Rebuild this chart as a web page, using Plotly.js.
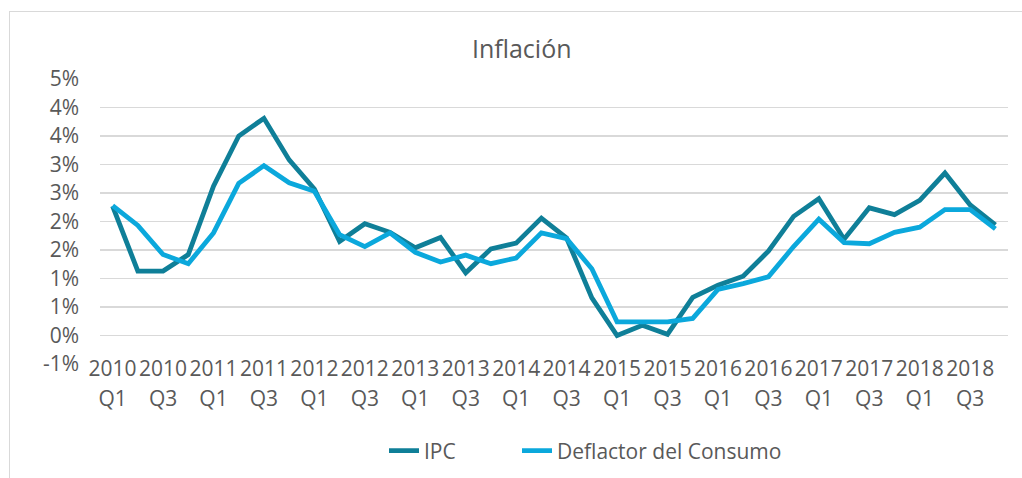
<!DOCTYPE html>
<html>
<head>
<meta charset="utf-8">
<script src="https://cdn.plot.ly/plotly-3.0.1.min.js"></script>
<style>
  html, body { margin: 0; padding: 0; background: #ffffff; }
  #wrap { position: relative; width: 1022px; height: 478px; overflow: hidden; }
  #frame { position: absolute; left: 9px; top: 11px; width: 1020px; height: 480px;
           border-top: 1px solid #d9d9d9; border-left: 1px solid #d9d9d9; box-sizing: border-box; z-index: 2; pointer-events: none; }
  #chart { position: absolute; left: 0; top: 0; width: 1022px; height: 478px; }
</style>
</head>
<body>
<div id="wrap">
  <div id="chart"></div>
  <div id="frame"></div>
</div>
<script>
const quarters = [
  "2010 Q1","2010 Q2","2010 Q3","2010 Q4",
  "2011 Q1","2011 Q2","2011 Q3","2011 Q4",
  "2012 Q1","2012 Q2","2012 Q3","2012 Q4",
  "2013 Q1","2013 Q2","2013 Q3","2013 Q4",
  "2014 Q1","2014 Q2","2014 Q3","2014 Q4",
  "2015 Q1","2015 Q2","2015 Q3","2015 Q4",
  "2016 Q1","2016 Q2","2016 Q3","2016 Q4",
  "2017 Q1","2017 Q2","2017 Q3","2017 Q4",
  "2018 Q1","2018 Q2","2018 Q3","2018 Q4"
];
const ipc = [2.27,1.13,1.13,1.42,2.62,3.50,3.81,3.08,2.57,1.65,1.96,1.81,1.54,1.72,1.10,1.52,1.62,2.06,1.71,0.66,0.00,0.18,0.02,0.67,0.88,1.04,1.48,2.09,2.40,1.69,2.24,2.12,2.37,2.85,2.29,1.94];
const deflactor = [2.28,1.93,1.42,1.26,1.80,2.67,2.98,2.68,2.53,1.77,1.56,1.80,1.46,1.29,1.41,1.26,1.36,1.80,1.70,1.17,0.24,0.24,0.24,0.30,0.81,0.91,1.03,1.56,2.04,1.63,1.61,1.81,1.90,2.21,2.21,1.87];

const xTickVals = ["2010 Q1","2010 Q3","2011 Q1","2011 Q3","2012 Q1","2012 Q3","2013 Q1","2013 Q3","2014 Q1","2014 Q3","2015 Q1","2015 Q3","2016 Q1","2016 Q3","2017 Q1","2017 Q3","2018 Q1","2018 Q3"];
const yearText = ["2010","2010","2011","2011","2012","2012","2013","2013","2014","2014","2015","2015","2016","2016","2017","2017","2018","2018"];
const quarterText = ["Q1","Q3","Q1","Q3","Q1","Q3","Q1","Q3","Q1","Q3","Q1","Q3","Q1","Q3","Q1","Q3","Q1","Q3"];
const yTickVals = [-0.5,0,0.5,1,1.5,2,2.5,3,3.5,4,4.5];
const yTickText = ["-1%","0%","1%","1%","2%","2%","3%","3%","4%","4%","5%"];

const textColor = "#595959";
const font = "Open Sans, sans-serif";
const tickFont = { family: font, size: 21, color: textColor };
const legendFont = { family: font, size: 21, color: textColor };
const xRange = [-0.5, quarters.length - 0.5];

const traces = [
  { x: quarters, y: ipc, name: "IPC", type: "scatter", mode: "lines",
    line: { color: "#0F7F98", width: 4.8 }, legend: "legend" },
  { x: quarters, y: deflactor, name: "Deflactor del Consumo", type: "scatter", mode: "lines",
    line: { color: "#0BA8DC", width: 4.8 }, legend: "legend2" },
  // carrier for the second row of category labels (quarters), not drawn
  { x: quarters, y: ipc, xaxis: "x2", yaxis: "y", type: "scatter", mode: "lines",
    line: { width: 0, color: "rgba(0,0,0,0)" }, opacity: 0, showlegend: false, hoverinfo: "skip" }
];

const legendY = 1 - 451 / 478;

const layout = {
  width: 1022, height: 478,
  margin: { l: 100, r: 14, t: 78, b: 113 },
  paper_bgcolor: "#ffffff", plot_bgcolor: "#ffffff",
  font: { family: font, color: textColor, size: 21 },
  title: { text: "Inflación", font: { family: font, size: 25, color: textColor },
           xref: "container", x: 0.5105, xanchor: "center",
           yref: "container", y: 1 - 49/478, yanchor: "middle" },
  xaxis: { type: "category", categoryorder: "array", categoryarray: quarters, range: xRange,
           tickvals: xTickVals, ticktext: yearText,
           showgrid: false, zeroline: false, showline: false, ticks: "",
           tickfont: tickFont, tickangle: 0, automargin: false,
           ticklabelstandoff: -11, fixedrange: true },
  xaxis2: { type: "category", categoryorder: "array", categoryarray: quarters, range: xRange,
            overlaying: "x", anchor: "y", side: "bottom",
            tickvals: xTickVals, ticktext: quarterText,
            showgrid: false, zeroline: false, showline: false, ticks: "",
            tickfont: tickFont, tickangle: 0, automargin: false,
            ticklabelstandoff: 19, fixedrange: true },
  yaxis: { range: [-0.5175, 4.5175], tickvals: yTickVals, ticktext: yTickText,
           showgrid: true, gridcolor: "#d9d9d9", gridwidth: 1.3,
           zeroline: false, showline: false, ticks: "",
           tickfont: tickFont, automargin: false,
           ticklabelstandoff: 20, fixedrange: true },
  showlegend: true,
  legend: { orientation: "h", xref: "paper", x: (384 - 100) / 908, xanchor: "left",
            yref: "container", y: legendY, yanchor: "middle",
            font: legendFont, bgcolor: "rgba(0,0,0,0)" },
  legend2: { orientation: "h", xref: "paper", x: (517 - 100) / 908, xanchor: "left",
             yref: "container", y: legendY, yanchor: "middle",
             font: legendFont, bgcolor: "rgba(0,0,0,0)" }
};

Plotly.newPlot("chart", traces, layout, { displayModeBar: false, staticPlot: true });
</script>
</body>
</html>
